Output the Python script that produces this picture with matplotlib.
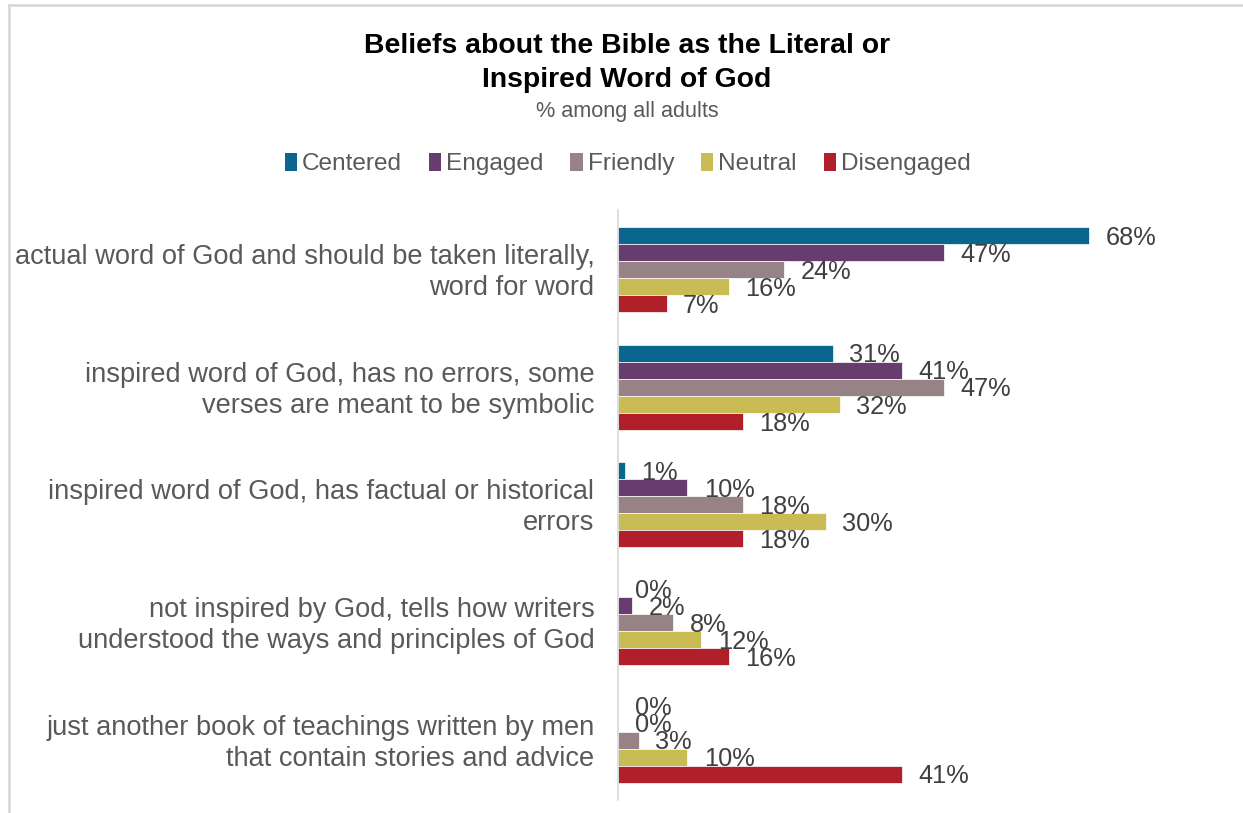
import matplotlib.pyplot as plt
import numpy as np
from matplotlib.patches import Patch
from matplotlib.lines import Line2D

plt.rcParams['font.family'] = ['Liberation Sans', 'DejaVu Sans']

categories = [
    "actual word of God and should be taken literally,\nword for word",
    "inspired word of God, has no errors, some\nverses are meant to be symbolic",
    "inspired word of God, has factual or historical\nerrors",
    "not inspired by God, tells how writers\nunderstood the ways and principles of God",
    "just another book of teachings written by men\nthat contain stories and advice",
]
segments = ["Centered", "Engaged", "Friendly", "Neutral", "Disengaged"]
centered = [68, 31, 1, 0, 0]
engaged = [47, 41, 10, 2, 0]
friendly = [24, 47, 18, 8, 3]
neutral = [16, 32, 30, 12, 10]
disengaged = [7, 18, 18, 16, 41]

series = [centered, engaged, friendly, neutral, disengaged]
colors = ["#08668F", "#663D6E", "#978286", "#C9BC55", "#B1202A"]

fig = plt.figure(figsize=(12.43, 8.13), dpi=100)
ax = fig.add_axes([618 / 1243, 13 / 813, 582 / 1243, 590 / 813])

h = 0.1446
y = np.arange(len(categories))
for j, (vals, col) in enumerate(zip(series, colors)):
    pos = y + (j - 2) * h
    ax.barh(pos, vals, height=h, color=col, edgecolor='white', linewidth=0.5)
    for p, v in zip(pos, vals):
        ax.text(v + 2.4, p + 0.02, f"{v}%", va='center', ha='left',
                fontsize=18.3, color='#404040')

ax.set_xlim(0, 84)
ax.set_ylim(4.51, -0.506)
ax.set_yticks(y - 0.02)
ax.set_yticklabels(categories, fontsize=19.6, color='#595959', ha='right',
                   linespacing=1.25)
ax.tick_params(axis='y', length=0, pad=17)
ax.set_xticks([])
for s in ['top', 'right', 'bottom']:
    ax.spines[s].set_visible(False)
ax.spines['left'].set_color('#D9D9D9')
ax.spines['left'].set_linewidth(1.2)

fig.text(0.5045, 0.922, "Beliefs about the Bible as the Literal or\nInspired Word of God",
         ha='center', va='center', fontsize=20.4, fontweight='bold',
         color='black', linespacing=1.4)
fig.text(0.5045, 0.863, "% among all adults", ha='center', va='center',
         fontsize=15.6, color='#595959')

handles = [Patch(facecolor=c, edgecolor='none') for c in colors]
fig.legend(handles, segments, loc='center', bbox_to_anchor=(0.505, 0.798),
           ncol=5, frameon=False, fontsize=17.6, handlelength=0.5,
           handleheight=0.75, handletextpad=0.2, columnspacing=1.1,
           labelcolor='#595959')

# light frame around the chart area
fig.add_artist(Line2D([9 / 1243, 1], [1 - 5 / 813, 1 - 5 / 813],
                      color='#D9D9D9', linewidth=2))
fig.add_artist(Line2D([9 / 1243, 9 / 1243], [0, 1 - 5 / 813],
                      color='#D9D9D9', linewidth=2))

fig.savefig('out.png', dpi=100)
